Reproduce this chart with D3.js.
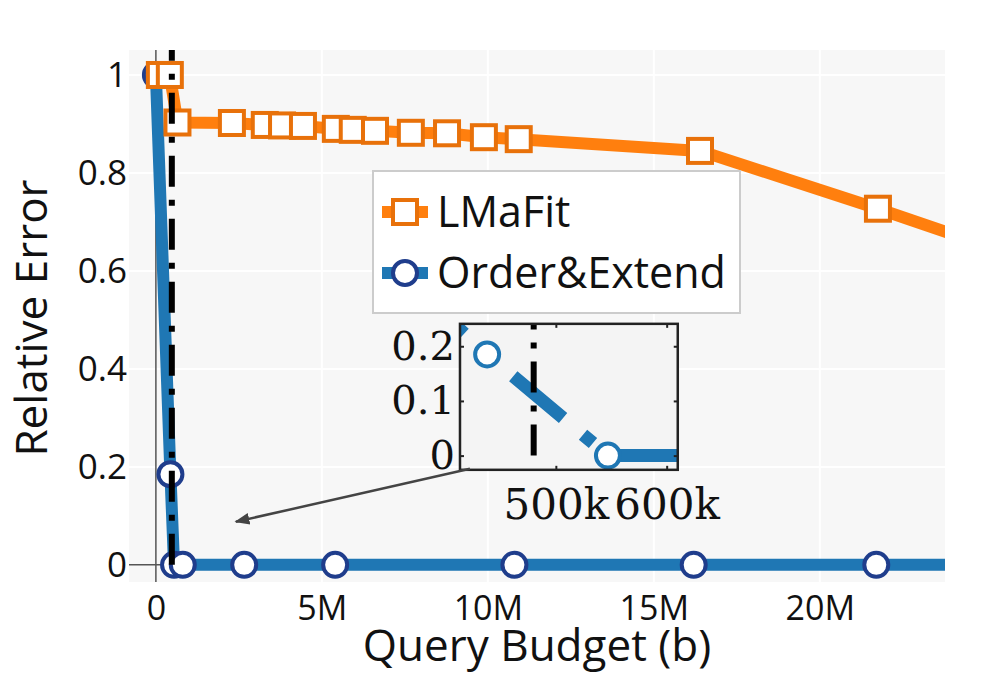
<!DOCTYPE html>
<html>
<head>
<meta charset="utf-8">
<script src="https://cdn.jsdelivr.net/npm/d3@7"></script>
<style>
  body { margin: 0; background: #fff; }
  svg text { font-family: "Open Sans", sans-serif; fill: #111; }
</style>
</head>
<body>
<svg id="chart" width="1000" height="673"></svg>
<script>
// --- data ---
const xTicks = [0, 5e6, 10e6, 15e6, 20e6];
const xTickLabels = ["0", "5M", "10M", "15M", "20M"];
const yTicks = [0, 0.2, 0.4, 0.6, 0.8, 1];
const yTickLabels = ["0", "0.2", "0.4", "0.6", "0.8", "1"];

const lmafitX = [0.12e6, 0.42e6, 0.65e6, 2.29e6, 3.28e6, 3.8e6, 4.43e6, 5.42e6, 5.93e6, 6.6e6,
                 7.68e6, 8.77e6, 9.88e6, 10.93e6, 16.39e6, 21.75e6, 27.1e6];
const lmafitY = [1.0, 1.0, 0.903, 0.902, 0.898, 0.897, 0.896, 0.89, 0.888, 0.886,
                 0.882, 0.881, 0.873, 0.869, 0.845, 0.727, 0.603];

const orderX = [0, 0.438e6, 0.547e6, 0.81e6, 2.66e6, 5.4e6, 10.8e6, 16.2e6, 21.7e6, 27e6];
const orderY = [1.0, 0.185, 0, 0, 0, 0, 0, 0, 0, 0];

const budgetLine = 0.48e6;   // vertical dash-dot marker

const insetXTicks = [500e3, 600e3];
const insetXTickLabels = ["500k", "600k"];
const insetYTicks = [0, 0.1, 0.2];
const insetYTickLabels = ["0", "0.1", "0.2"];

const seriesNames = ["LMaFit", "Order&Extend"];

// --- layout ---
const plot = { left: 129, right: 945, top: 50, bottom: 582 };
const svg = d3.select("#chart");

const x = d3.scaleLinear().domain([-0.81e6, 23.77e6]).range([plot.left, plot.right]);
const y = d3.scaleLinear().domain([-0.035, 1.051]).range([plot.bottom, plot.top]);

const orange = "#ff7f0e", orangeEdge = "#e8710a";
const blue = "#1f77b4", blueEdge = "#1f3d8c";

svg.append("defs").append("clipPath").attr("id", "plotClip")
  .append("rect")
  .attr("x", plot.left).attr("y", plot.top)
  .attr("width", plot.right - plot.left).attr("height", plot.bottom - plot.top);

// background + grid
svg.append("rect")
  .attr("x", plot.left).attr("y", plot.top)
  .attr("width", plot.right - plot.left).attr("height", plot.bottom - plot.top)
  .attr("fill", "#f7f7f7");

svg.append("g").selectAll("line").data(xTicks.filter(d => d !== 0)).join("line")
  .attr("x1", d => x(d)).attr("x2", d => x(d))
  .attr("y1", plot.top).attr("y2", plot.bottom)
  .attr("stroke", "#fff").attr("stroke-width", 2);
svg.append("g").selectAll("line").data(yTicks.filter(d => d !== 0)).join("line")
  .attr("x1", plot.left).attr("x2", plot.right)
  .attr("y1", d => y(d)).attr("y2", d => y(d))
  .attr("stroke", "#fff").attr("stroke-width", 2);

// zero lines
svg.append("line")
  .attr("x1", x(0)).attr("x2", x(0)).attr("y1", plot.top).attr("y2", plot.bottom)
  .attr("stroke", "#555").attr("stroke-width", 1.5);
svg.append("line")
  .attr("x1", plot.left).attr("x2", plot.right).attr("y1", y(0)).attr("y2", y(0))
  .attr("stroke", "#555").attr("stroke-width", 1.5);

// axes (labels only)
const xAxis = svg.append("g")
  .attr("transform", `translate(0,${plot.bottom})`)
  .call(d3.axisBottom(x).tickValues(xTicks).tickFormat((d, i) => xTickLabels[i]).tickSize(0).tickPadding(0));
xAxis.select(".domain").remove();
xAxis.selectAll("text").attr("dy", null).attr("y", 38)
  .style("font-size", "34px").style("font-family", "Open Sans");

const yAxis = svg.append("g")
  .attr("transform", `translate(${plot.left},0)`)
  .call(d3.axisLeft(y).tickValues(yTicks).tickFormat((d, i) => yTickLabels[i]).tickSize(0).tickPadding(2));
yAxis.select(".domain").remove();
yAxis.selectAll("text").style("font-size", "35px").style("font-family", "Open Sans");

// titles
svg.append("text")
  .attr("x", (plot.left + plot.right) / 2).attr("y", 661)
  .attr("text-anchor", "middle").style("font-size", "44px")
  .text("Query Budget (b)");
svg.append("text")
  .attr("transform", `translate(47,${(plot.top + plot.bottom) / 2 + 2}) rotate(-90)`)
  .attr("text-anchor", "middle").style("font-size", "44px")
  .text("Relative Error");

// data
const dataLayer = svg.append("g").attr("clip-path", "url(#plotClip)");
const orderPts = orderX.map((d, i) => [d, orderY[i]]);
const lmafitPts = lmafitX.map((d, i) => [d, lmafitY[i]]);
const line = d3.line().x(d => x(d[0])).y(d => y(d[1]));

dataLayer.append("path").datum(orderPts).attr("d", line)
  .attr("fill", "none").attr("stroke", blue).attr("stroke-width", 12).attr("stroke-linejoin", "round");
dataLayer.append("g").selectAll("circle").data(orderPts).join("circle")
  .attr("cx", d => x(d[0])).attr("cy", d => y(d[1])).attr("r", 12)
  .attr("fill", "#fff").attr("stroke", blueEdge).attr("stroke-width", 4);

dataLayer.append("path").datum(lmafitPts).attr("d", line)
  .attr("fill", "none").attr("stroke", orange).attr("stroke-width", 12).attr("stroke-linejoin", "round");
dataLayer.append("g").selectAll("rect").data(lmafitPts).join("rect")
  .attr("x", d => x(d[0]) - 12).attr("y", d => y(d[1]) - 12)
  .attr("width", 24).attr("height", 24)
  .attr("fill", "#fff").attr("stroke", orangeEdge).attr("stroke-width", 4);

// vertical dash-dot budget line (drawn from y=0 upward)
dataLayer.append("path").datum([[budgetLine, 0], [budgetLine, 1.3]]).attr("d", line)
  .attr("fill", "none").attr("stroke", "#000").attr("stroke-width", 6)
  .attr("stroke-dasharray", "31,13,6,13");

// legend
const legend = svg.append("g");
legend.append("rect")
  .attr("x", 373).attr("y", 171).attr("width", 367).attr("height", 142)
  .attr("fill", "#fff").attr("stroke", "#ccc").attr("stroke-width", 2);
const legendRows = [
  { name: seriesNames[0], color: orange, edge: orangeEdge, shape: "square", cy: 212 },
  { name: seriesNames[1], color: blue, edge: blueEdge, shape: "circle", cy: 273 }
];
legendRows.forEach(r => {
  legend.append("line").attr("x1", 382).attr("x2", 428).attr("y1", r.cy).attr("y2", r.cy)
    .attr("stroke", r.color).attr("stroke-width", 12);
  if (r.shape === "square") {
    legend.append("rect").attr("x", 393).attr("y", r.cy - 12).attr("width", 24).attr("height", 24)
      .attr("fill", "#fff").attr("stroke", r.edge).attr("stroke-width", 4);
  } else {
    legend.append("circle").attr("cx", 405).attr("cy", r.cy).attr("r", 12)
      .attr("fill", "#fff").attr("stroke", r.edge).attr("stroke-width", 4);
  }
  legend.append("text").attr("x", 437).attr("y", r.cy).attr("dy", "0.36em")
    .style("font-size", "43px").text(r.name);
});

// inset (placed in main data coordinates)
const insetBox = { x0: x(9.16e6), x1: x(15.72e6), y0: y(0.492), y1: y(0.194) };
const xi = d3.scaleLinear().domain([413.5e3, 610e3]).range([insetBox.x0, insetBox.x1]);
const yi = d3.scaleLinear().domain([-0.026, 0.241]).range([insetBox.y1, insetBox.y0]);

svg.select("defs").append("clipPath").attr("id", "insetClip")
  .append("rect")
  .attr("x", insetBox.x0).attr("y", insetBox.y0)
  .attr("width", insetBox.x1 - insetBox.x0).attr("height", insetBox.y1 - insetBox.y0);

const inset = svg.append("g");
inset.append("rect")
  .attr("x", insetBox.x0).attr("y", insetBox.y0)
  .attr("width", insetBox.x1 - insetBox.x0).attr("height", insetBox.y1 - insetBox.y0)
  .attr("fill", "#f4f4f4");

const insetData = inset.append("g").attr("clip-path", "url(#insetClip)");
const lineIn = d3.line().x(d => xi(d[0])).y(d => yi(d[1]));
insetData.append("path").datum(orderPts).attr("d", lineIn)
  .attr("fill", "none").attr("stroke", blue).attr("stroke-width", 13)
  .attr("stroke-dasharray", "65,26,13,26").attr("stroke-dashoffset", 87);
insetData.append("path").datum([[budgetLine, 0], [budgetLine, 0.5]]).attr("d", lineIn)
  .attr("fill", "none").attr("stroke", "#000").attr("stroke-width", 6)
  .attr("stroke-dasharray", "31,13,6,13");
insetData.append("g").selectAll("circle").data(orderPts).join("circle")
  .attr("cx", d => xi(d[0])).attr("cy", d => yi(d[1])).attr("r", 12)
  .attr("fill", "#fff").attr("stroke", blue).attr("stroke-width", 4);

const serif = "'DejaVu Serif', serif";
const ib = inset.append("g").attr("transform", `translate(0,${insetBox.y1})`)
  .call(d3.axisBottom(xi).tickValues(insetXTicks).tickFormat((d, i) => insetXTickLabels[i]).tickSize(-4).tickPadding(19));
const il = inset.append("g").attr("transform", `translate(${insetBox.x0},0)`)
  .call(d3.axisLeft(yi).tickValues(insetYTicks).tickFormat((d, i) => insetYTickLabels[i]).tickSize(-4).tickPadding(5));
const it = inset.append("g").attr("transform", `translate(0,${insetBox.y0})`)
  .call(d3.axisTop(xi).tickValues(insetXTicks).tickFormat("").tickSize(-4));
const ir = inset.append("g").attr("transform", `translate(${insetBox.x1},0)`)
  .call(d3.axisRight(yi).tickValues(insetYTicks).tickFormat("").tickSize(-4));
[ib, il, it, ir].forEach(g => {
  g.select(".domain").remove();
  g.selectAll(".tick line").attr("stroke", "#222").attr("stroke-width", 2);
  g.selectAll("text").style("font-family", serif).style("font-size", "40px").attr("fill", "#111");
});
ib.selectAll("text").style("font-size", "42px");
inset.append("rect")
  .attr("x", insetBox.x0).attr("y", insetBox.y0)
  .attr("width", insetBox.x1 - insetBox.x0).attr("height", insetBox.y1 - insetBox.y0)
  .attr("fill", "none").attr("stroke", "#222").attr("stroke-width", 2.5);

// arrow pointing from the inset back to the zoomed region
svg.select("defs").append("marker")
  .attr("id", "arrowHead").attr("viewBox", "0 0 10 10")
  .attr("refX", 9).attr("refY", 5)
  .attr("markerWidth", 6).attr("markerHeight", 6).attr("orient", "auto")
  .attr("markerUnits", "strokeWidth")
  .append("path").attr("d", "M0,1 L10,5 L0,9 z").attr("fill", "#444");
svg.append("line")
  .attr("x1", x(9.46e6)).attr("y1", y(0.196))
  .attr("x2", x(2.41e6)).attr("y2", y(0.088))
  .attr("stroke", "#444").attr("stroke-width", 2.5)
  .attr("marker-end", "url(#arrowHead)");
</script>
</body>
</html>
